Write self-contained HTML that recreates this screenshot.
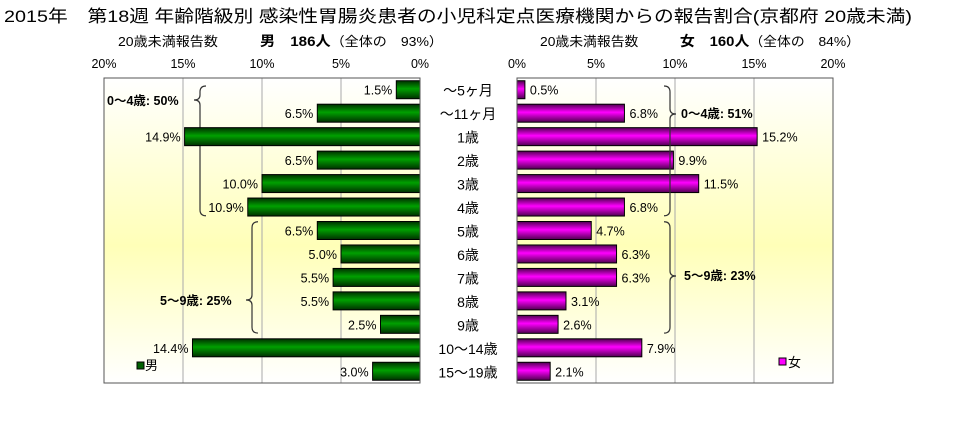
<!DOCTYPE html>
<html><head><meta charset="utf-8"><style>
body{margin:0;background:#fff;}
svg text{font-family:"Liberation Sans","Noto Sans CJK JP",sans-serif;}
</style></head><body>
<svg id="c" width="967" height="417" xmlns="http://www.w3.org/2000/svg">
<defs>
<linearGradient id="bg" x1="0" y1="0" x2="0" y2="1">
<stop offset="0" stop-color="#ffffff"/><stop offset="0.55" stop-color="#ffffb8"/><stop offset="1" stop-color="#ffffff"/>
</linearGradient>
<linearGradient id="gm" x1="0" y1="0" x2="0" y2="1">
<stop offset="0" stop-color="#003000"/><stop offset="0.45" stop-color="#00a000"/><stop offset="1" stop-color="#003000"/>
</linearGradient>
<linearGradient id="gf" x1="0" y1="0" x2="0" y2="1">
<stop offset="0" stop-color="#500050"/><stop offset="0.45" stop-color="#ff00ff"/><stop offset="1" stop-color="#500050"/>
</linearGradient>
</defs>
<text x="4" y="22" font-size="17" textLength="908" lengthAdjust="spacingAndGlyphs">2015年　第18週 年齢階級別 感染性胃腸炎患者の小児科定点医療機関からの報告割合(京都府 20歳未満)</text>
<text x="118" y="46" font-size="13" textLength="325" lengthAdjust="spacingAndGlyphs">20歳未満報告数　　　<tspan font-weight="bold" font-size="14">男　186人</tspan>（全体の　93%）</text>
<text x="540" y="46" font-size="13" textLength="320" lengthAdjust="spacingAndGlyphs">20歳未満報告数　　　<tspan font-weight="bold" font-size="14">女　160人</tspan>（全体の　84%）</text>
<rect x="104" y="78" width="316" height="305" fill="url(#bg)"/>
<rect x="517" y="78" width="316" height="305" fill="url(#bg)"/>
<g id="grid"></g>
<g id="brk"></g>
<g id="bars"></g>
<rect x="104" y="78" width="316" height="305" fill="none" stroke="#555"/>
<rect x="517" y="78" width="316" height="305" fill="none" stroke="#555"/>
<g id="lab"></g>
<rect x="137" y="362" width="7" height="7" fill="#006000" stroke="#000"/>
<text x="145" y="370" font-size="13">男</text>
<rect x="779" y="358" width="7" height="7" fill="#ff00ff" stroke="#000"/>
<text x="788" y="367" font-size="13">女</text>
</svg>
<script>
const categories=["～5ヶ月","～11ヶ月","1歳","2歳","3歳","4歳","5歳","6歳","7歳","8歳","9歳","10～14歳","15～19歳"];
const maleValues=[1.5,6.5,14.9,6.5,10.0,10.9,6.5,5.0,5.5,5.5,2.5,14.4,3.0];
const femaleValues=[0.5,6.8,15.2,9.9,11.5,6.8,4.7,6.3,6.3,3.1,2.6,7.9,2.1];
const ticks=[0,5,10,15,20];
const groupLabelsM=["0～4歳: 50%","5～9歳: 25%"];
const groupLabelsF=["0～4歳: 51%","5～9歳: 23%"];
const NS="http://www.w3.org/2000/svg";
const top0=78,rowH=305/13,barH=18;
const xm=v=>420-v*15.8, xf=v=>517+v*15.8;
const yr=i=>top0+i*rowH;
function mk(t,a,p){const e=document.createElementNS(NS,t);for(const k in a)e.setAttribute(k,a[k]);p.appendChild(e);return e;}
const grid=document.getElementById('grid'),bars=document.getElementById('bars'),lab=document.getElementById('lab'),brk=document.getElementById('brk');
ticks.forEach(t=>{
 if(t>0&&t<20){
  const g1=mk('line',{x1:xm(t),x2:xm(t),y1:78,y2:383,stroke:'#aaa'},grid);
  
  
  const g2=mk('line',{x1:xf(t),x2:xf(t),y1:78,y2:383,stroke:'#aaa'},grid);
  
  
 }
 const a=mk('text',{x:xm(t),y:68,'font-size':12.5,'text-anchor':'middle'},lab);a.textContent=t+'%';
 
 
 const b=mk('text',{x:xf(t),y:68,'font-size':12.5,'text-anchor':'middle'},lab);b.textContent=t+'%';
 
 
});
categories.forEach((c,i)=>{
 const y=yr(i)+(rowH-barH)/2;
 const m=maleValues[i],f=femaleValues[i];
 const r1=mk('rect',{x:xm(m),y:y,width:420-xm(m),height:barH,fill:'url(#gm)',stroke:'#000'},bars);
 
 
 const r2=mk('rect',{x:517,y:y,width:xf(f)-517,height:barH,fill:'url(#gf)',stroke:'#000'},bars);
 
 
 const t1=mk('text',{x:xm(m)-4,y:y+14,'font-size':12.5,'text-anchor':'end'},lab);t1.textContent=m.toFixed(1)+'%';
 
 
 const t2=mk('text',{x:xf(f)+5,y:y+14,'font-size':12.5},lab);t2.textContent=f.toFixed(1)+'%';
 
 
 const t3=mk('text',{x:468,y:y+15,'font-size':14,'text-anchor':'middle'},lab);t3.textContent=c;
 
 
});
function brace(x,y1,y2,tip,dir){const d=dir*6;
 return `M${x+d},${y1} Q${x},${y1} ${x},${y1+6} L${x},${tip-5} Q${x},${tip} ${x-d},${tip} Q${x},${tip} ${x},${tip+5} L${x},${y2-6} Q${x},${y2} ${x+d},${y2}`;}
const braces=[[200,yr(0)+8,yr(6)-3,100,1,groupLabelsM[0],107,105],[252,yr(6)+3,yr(11)-3,300,1,groupLabelsM[1],160,305],
[670,yr(0)+8,yr(6)-3,114,-1,groupLabelsF[0],681,118],[670,yr(6)+3,yr(11)-3,276,-1,groupLabelsF[1],684,280]];
braces.forEach((b,i)=>{
 const p=mk('path',{d:brace(b[0],b[1],b[2],b[3],b[4]),fill:'none',stroke:'#333','stroke-width':1.2},i<2?brk:lab);
 
 
 const t=mk('text',{x:b[6],y:b[7],'font-size':12.5,'font-weight':'bold'},lab);t.textContent=b[5];
 
 
});
</script>
</body></html>
